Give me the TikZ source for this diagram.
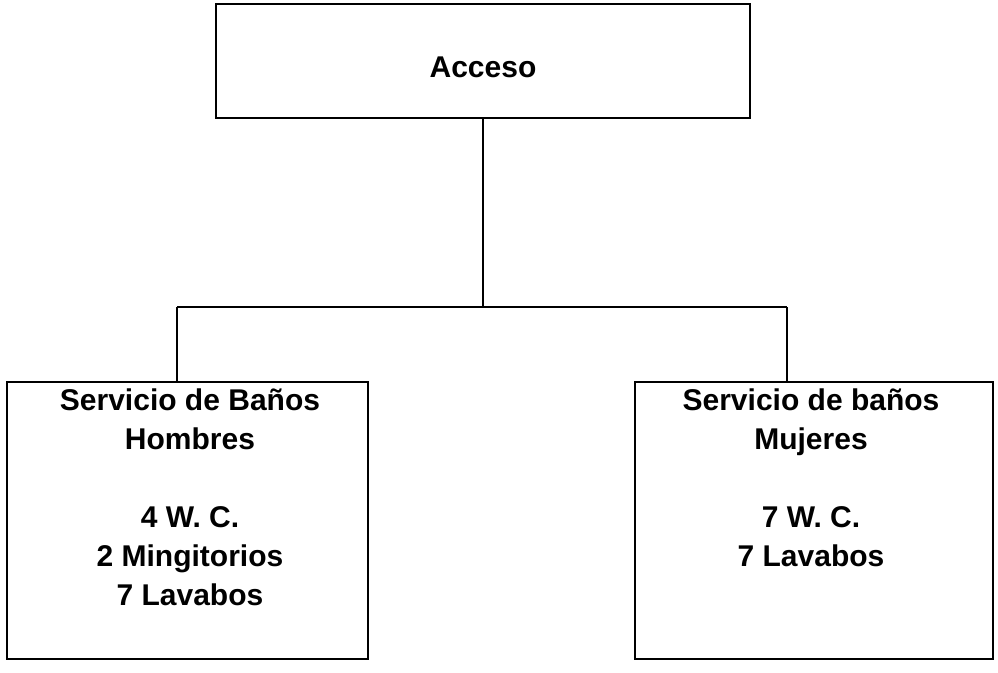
\documentclass[tikz,border=0pt]{standalone}
\usepackage{fontspec}
\setmainfont{Liberation Sans}
\begin{document}
\begin{tikzpicture}[x=1pt,y=-1pt,
  boxnode/.style={draw=black,line width=2pt,rectangle,inner sep=0pt,fill=none},
  lbl/.style={inner sep=0pt,align=center,font=\fontsize{30}{39}\selectfont\bfseries},
  conn/.style={draw=black,line width=2pt}]
\useasboundingbox (0,0) rectangle (998,672);
\node[boxnode,minimum width=534pt,minimum height=114pt] (top) at (483,61) {};
\node[boxnode,minimum width=361pt,minimum height=277pt] (left) at (187.5,520.5) {};
\node[boxnode,minimum width=358pt,minimum height=277pt] (right) at (814,520.5) {};
\node[lbl,anchor=base] (ttop) at (483,77) {Acceso};
\node[lbl,anchor=north] (tleft) at (190,389) {Servicio de Baños\\Hombres\\[39pt]4 W. C.\\2 Mingitorios\\7 Lavabos};
\node[lbl,anchor=north] (tright) at (811,389) {Servicio de baños\\Mujeres\\[39pt]7 W. C.\\7 Lavabos};
\coordinate (jC) at (483,307);
\coordinate (jL) at (177,307);
\coordinate (jR) at (787,307);
\draw[conn] (top.south) -- (jC);
\draw[conn] (jL) -- (jR);
\draw[conn] (jL) -- (jL |- left.north);
\draw[conn] (jR) -- (jR |- right.north);
\end{tikzpicture}
\end{document}
